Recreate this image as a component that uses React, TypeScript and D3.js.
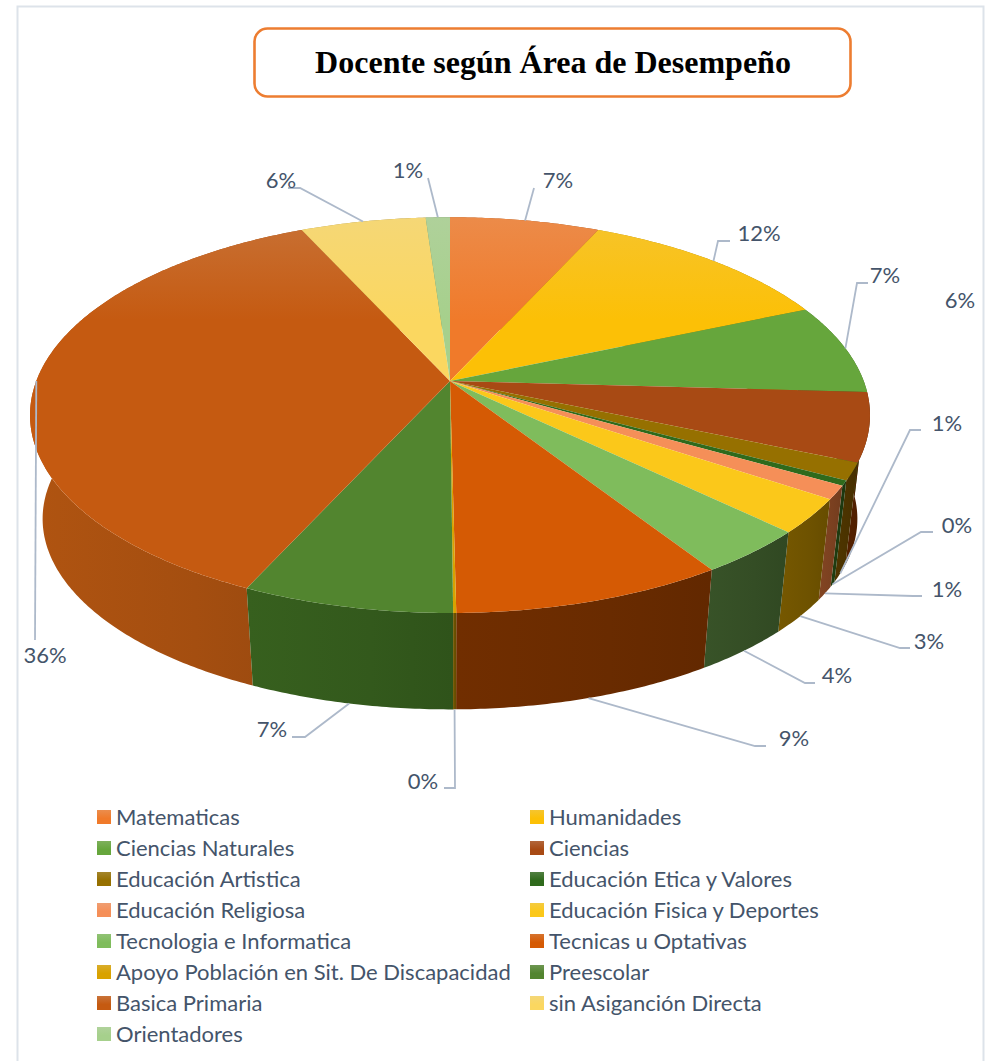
import * as d3 from "d3";
import { useEffect } from "react";

const width = 990;
const height = 1061;

const titleText = "Docente según Área de Desempeño";

const categories = [
  "Matematicas",
  "Humanidades",
  "Ciencias Naturales",
  "Ciencias",
  "Educación Artistica",
  "Educación Etica y Valores",
  "Educación Religiosa",
  "Educación Fisica y Deportes",
  "Tecnologia e Informatica",
  "Tecnicas u Optativas",
  "Apoyo Población en Sit. De Discapacidad",
  "Preescolar",
  "Basica Primaria",
  "sin Asiganción Directa",
  "Orientadores",
];

// percentages
const values = [6.8, 11.7, 7.4, 5.6, 1.4, 0.4, 1.1, 2.8, 3.7, 8.9, 0.1, 6.9, 36.4, 5.7, 1.1];

const topColors = [
  "#f07a2a", "#fcc006", "#66a63c", "#a84a14", "#967000",
  "#2f6a1c", "#f58f58", "#fbc81a", "#7fbc5c", "#d55a04",
  "#d9a200", "#52852f", "#c55a11", "#fbd760", "#a6d08c",
];
const sideColors = [
  "#a5531c", "#a88000", "#3f6b25", "#4f1f00", "#4a3200",
  "#1e3a10", "#7a4020", "#6e5200", "#344d25", "#692b00",
  "#6a5000", "#33591c", "#a44e10", "#a88f40", "#6f8a5c",
];

// layout of the outside labels: [label x, label y, elbow x, elbow y, elbow end x]
const labelLayout = [
  [558, 180, 534, 188, 534],
  [759, 233, 718, 241, 730],
  [885, 275, 857, 283, 868],
  [960, 300, NaN, NaN, NaN],
  [947, 423, 910, 430, 921],
  [957, 525, 921, 532, 933],
  [947, 589, 913, 596, 922],
  [929, 641, 900, 648, 910],
  [837, 675, 805, 683, 815],
  [794, 738, 755, 746, 766],
  [423, 781, 455, 788, 444],
  [272, 729, 305, 737, 292],
  [45, 655, 35, 640, 35],
  [281, 180, 300, 188, 288],
  [408, 170, 428, 178, 428],
];

const apexX = 450;
const topApexY = 381;
const sideApexY = 486;
const sideScaleX = 0.97;
const sideScaleY = 0.963;
const diskA = 413.7;
const diskB = 192;
const tilt = 0.1723;

// perspective projection of the pie's circle, angle clockwise from 12 o'clock
const project = (angle: number, apexY: number, sx: number, sy: number): [number, number] => {
  const u = Math.sin(angle);
  const v = -Math.cos(angle);
  const d = 1 - tilt * v;
  return [apexX + (sx * diskA * u) / d, apexY + (sy * diskB * v) / d];
};

const topRim = (a: number) => project(a, topApexY, 1, 1);
const bottomRim = (a: number) => project(a, sideApexY, sideScaleX, sideScaleY);

const arcPoints = (a0: number, a1: number, rim: (a: number) => [number, number]) => {
  const n = Math.max(2, Math.ceil((a1 - a0) / 0.01));
  return d3.range(n + 1).map((i) => rim(a0 + ((a1 - a0) * i) / n));
};

const line = d3.line();
const slices = d3.pie<number>().sort(null).value((d) => d)(values);
const legendRow = d3.scaleLinear().domain([0, 7]).range([817, 1034]);
const legendCol = d3.scaleOrdinal<number, number>().domain([0, 1]).range([97, 530]);
const rimTint = d3.interpolateRgb;
const labelFont = "Lato, 'Open Sans', sans-serif";
const textColor = "#44546a";

const App = () => {
  useEffect(() => {
    document.body.style.margin = "0";
  }, []);

  // front walls painted last
  const wallOrder = d3.range(slices.length).sort(
    (a, b) =>
      -Math.cos((slices[a].startAngle + slices[a].endAngle) / 2) +
      Math.cos((slices[b].startAngle + slices[b].endAngle) / 2)
  );

  return (
    <svg width={width} height={height} style={{ display: "block" }} xmlns="http://www.w3.org/2000/svg">
      <defs>
        {topColors.map((c, i) => (
          <linearGradient key={i} id={`top${i}`} gradientUnits="userSpaceOnUse" x1="0" y1="217" x2="0" y2="320">
            <stop offset="0" stopColor={rimTint(c, "#d8d8d8")(0.18)} />
            <stop offset="1" stopColor={c} />
          </linearGradient>
        ))}
        {topColors.map((c, i) => (
          <linearGradient key={i} id={`swatch${i}`} x1="0" y1="0" x2="0" y2="1">
            <stop offset="0" stopColor={rimTint(c, "#d8d8d8")(0.2)} />
            <stop offset="0.6" stopColor={c} />
          </linearGradient>
        ))}
        {sideColors.map((c, i) => (
          <linearGradient key={i} id={`side${i}`} x1="0" y1="0" x2="1" y2="0">
            <stop offset="0" stopColor={d3.color(c)!.brighter(0.2).formatHex()} />
            <stop offset="0.6" stopColor={c} />
            <stop offset="1" stopColor={d3.color(c)!.darker(0.2).formatHex()} />
          </linearGradient>
        ))}
      </defs>

      <rect x={0} y={0} width={width} height={height} fill="#fff" />
      <path d="M17.5,1070V6.5H983.5V1070" fill="none" stroke="#dde3ea" strokeWidth={2} />

      <rect x={254.5} y={28.5} width={596} height={68} rx={13} fill="#fff" stroke="#ed7d31" strokeWidth={2.6} />
      <text
        x={553}
        y={73}
        textAnchor="middle"
        fontFamily="'Liberation Serif', serif"
        fontWeight="bold"
        fontSize={32}
        fill="#000"
      >
        {titleText}
      </text>

      {wallOrder.map((i) => {
        const s = slices[i];
        const pts = [
          ...arcPoints(s.startAngle, s.endAngle, topRim),
          ...arcPoints(s.startAngle, s.endAngle, bottomRim).reverse(),
        ];
        return <path key={i} d={line(pts) + "Z"} fill={`url(#side${i})`} />;
      })}

      {slices.map((s, i) => {
        const pts = [[apexX, topApexY] as [number, number], ...arcPoints(s.startAngle, s.endAngle, topRim)];
        return <path key={i} d={line(pts) + "Z"} fill={`url(#top${i})`} />;
      })}

      {slices.map((s, i) => {
        const [lx, ly, ex, ey, ex2] = labelLayout[i];
        const mid = (s.startAngle + s.endAngle) / 2;
        const front = mid > 1.75 && mid < 4.5;
        const start = front ? bottomRim(mid) : topRim(mid);
        return (
          <g key={i}>
            {!isNaN(ex) && (
              <path
                d={line([start, [ex, ey], [ex2, ey]]) as string}
                fill="none"
                stroke="#adb9ca"
                strokeWidth={1.8}
              />
            )}
            <text
              x={lx}
              y={ly}
              dy="0.35em"
              textAnchor="middle"
              fontFamily={labelFont}
              fontSize={22}
              fill={textColor}
            >
              {Math.round(s.value)}%
            </text>
          </g>
        );
      })}

      {categories.map((name, i) => {
        const row = Math.floor(i / 2);
        const x = legendCol(i % 2);
        const y = legendRow(row);
        return (
          <g key={name}>
            <rect x={x} y={y - 7} width={14} height={14} fill={`url(#swatch${i})`} />
            <text x={x + 19} y={y} dy="0.35em" fontFamily={labelFont} fontSize={22} fill={textColor}>
              {name}
            </text>
          </g>
        );
      })}
    </svg>
  );
};

export default App;
